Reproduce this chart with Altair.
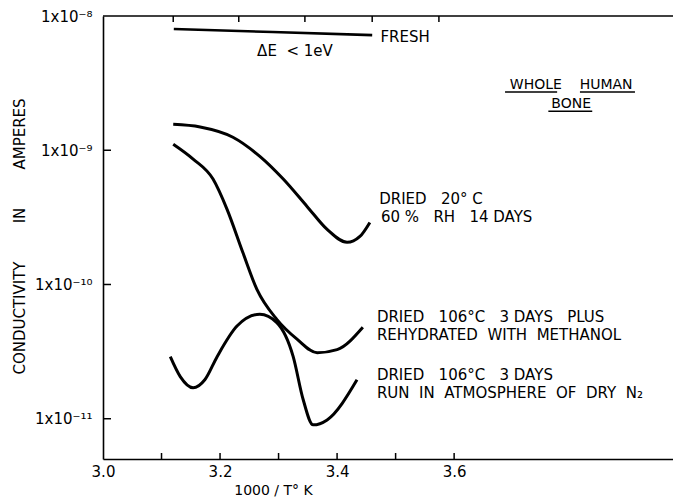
import altair as alt
import pandas as pd

# ---------------- data ----------------
fresh_x = [3.121, 3.290, 3.460]
fresh_y = [8.0e-9, 7.6e-9, 7.2e-9]

a_x = [3.120, 3.166, 3.222, 3.268, 3.308, 3.349, 3.383, 3.417, 3.439, 3.456]
a_y = [1.56e-9, 1.49e-9, 1.25e-9, 9.0e-10, 6.1e-10, 3.8e-10, 2.57e-10, 2.06e-10, 2.28e-10, 2.9e-10]

b_x = [3.120, 3.154, 3.188, 3.212, 3.239, 3.263, 3.297, 3.332, 3.366, 3.400, 3.444]
b_y = [1.11e-9, 8.6e-10, 6.1e-10, 3.63e-10, 1.73e-10, 9.2e-11, 5.5e-11, 3.9e-11, 3.1e-11, 3.27e-11, 4.8e-11]

c_x = [3.115, 3.132, 3.154, 3.174, 3.195, 3.229, 3.268, 3.297, 3.325, 3.342, 3.359, 3.383, 3.434]
c_y = [2.9e-11, 2.06e-11, 1.70e-11, 1.95e-11, 2.9e-11, 4.9e-11, 6.0e-11, 5.2e-11, 2.9e-11, 1.39e-11, 9.0e-12, 9.8e-12, 1.95e-11]

x_label_values = [3.0, 3.2, 3.4, 3.6]
x_tick_values = [3.1, 3.2, 3.3, 3.4, 3.5, 3.6]
top_tick_values = [3.120, 3.232, 3.345, 3.460, 3.574]
y_label_values = [1e-8, 1e-9, 1e-10, 1e-11]
y_tick_values = [1e-9, 1e-10, 1e-11]

NB = "\u00a0"
left_texts = ["FRESH", f"DRIED{NB*3}20°{NB}C", f"60{NB}%{NB*3}RH{NB*3}14{NB}DAYS",
              f"DRIED{NB*3}106°C{NB*3}3{NB}DAYS{NB*3}PLUS", f"REHYDRATED{NB*2}WITH{NB*2}METHANOL",
              f"DRIED{NB*3}106°C{NB*3}3{NB}DAYS", f"RUN{NB*2}IN{NB*2}ATMOSPHERE{NB*2}OF{NB*2}DRY{NB*2}N₂"]
left_x = [3.474, 3.472, 3.475, 3.468, 3.468, 3.468, 3.468]
left_y = [6.97e-9, 4.3e-10, 3.16e-10, 5.77e-11, 4.24e-11, 2.13e-11, 1.56e-11]

center_texts = [f"ΔE{NB*2}<{NB}1eV", f"WHOLE{NB*4}HUMAN", "BONE"]
center_x = [3.328, 3.800, 3.800]
center_y = [5.48e-9, 3.05e-9, 2.2e-9]
center_size = [15, 14, 14]

ul_x1 = [3.687, 3.815, 3.761]
ul_x2 = [3.776, 3.909, 3.836]
ul_y = [2.71e-9, 2.71e-9, 1.95e-9]

# ---------------- chart ----------------
W, H = 570, 443
FONT = "DejaVu Sans"

xs = alt.Scale(domain=[3.0, 3.974], nice=False, zero=False)
ys = alt.Scale(type="log", domain=[10 ** -11.30, 1e-8], nice=False)

curves = pd.concat([
    pd.DataFrame({"x": a_x, "y": a_y, "s": "a"}),
    pd.DataFrame({"x": b_x, "y": b_y, "s": "b"}),
    pd.DataFrame({"x": c_x, "y": c_y, "s": "c"}),
])

label_expr = ("'1x10' + (datum.value > 5e-9 ? '⁻⁸' : datum.value > 5e-10 ? '⁻⁹' : "
              "datum.value > 5e-11 ? '⁻¹⁰' : '⁻¹¹')")

base_lines = alt.Chart(curves).mark_line(color="black", strokeWidth=3, interpolate="monotone").encode(
    x=alt.X("x:Q", scale=xs, axis=alt.Axis(values=x_label_values, format=".1f", ticks=False, grid=False,
                                          domainColor="black", domainWidth=1.6, labelFont=FONT,
                                          labelFontSize=15, labelColor="black", labelPadding=5,
                                          labelFlush=False, title="1000 / T° K", titleFont=FONT,
                                          titleFontSize=14, titleFontWeight="normal", titleColor="black",
                                          titleX=170, titleY=31, titleAnchor="start", titleAlign="center",
                                          titleBaseline="middle")),
    y=alt.Y("y:Q", scale=ys, axis=alt.Axis(values=y_label_values, labelExpr=label_expr, ticks=False,
                                          grid=False, domainColor="black", domainWidth=1.6, labelFont=FONT,
                                          labelFontSize=15, labelColor="black", labelPadding=11,
                                          labelFlush=False,
                                          title=f"CONDUCTIVITY{NB*8}IN{NB*8}AMPERES", titleFont=FONT,
                                          titleFontSize=15, titleFontWeight="normal", titleColor="black",
                                          titleX=-84, titleY=220, titleAngle=270, titleAlign="center",
                                          titleBaseline="middle", titleAnchor="start")),
    detail="s:N",
)

fresh = alt.Chart(pd.DataFrame({"x": fresh_x, "y": fresh_y})).mark_line(
    color="black", strokeWidth=2.6).encode(x=alt.X("x:Q", scale=xs), y=alt.Y("y:Q", scale=ys))

yticks = alt.Chart(pd.DataFrame({"y": y_tick_values})).mark_rule(color="black", strokeWidth=1.5).encode(
    y=alt.Y("y:Q", scale=ys), x=alt.value(0), x2=alt.value(8))

xticks = alt.Chart(pd.DataFrame({"x": x_tick_values})).mark_rule(color="black", strokeWidth=1.5).encode(
    x=alt.X("x:Q", scale=xs), y=alt.value(H), y2=alt.value(H - 6))

top_line = alt.Chart(pd.DataFrame({"x": [3.0], "x2": [3.974]})).mark_rule(color="black", strokeWidth=1.6).encode(
    x=alt.X("x:Q", scale=xs), x2="x2:Q", y=alt.value(0))

tticks = alt.Chart(pd.DataFrame({"x": top_tick_values})).mark_rule(color="black", strokeWidth=1.5).encode(
    x=alt.X("x:Q", scale=xs), y=alt.value(0), y2=alt.value(6))

ltext = alt.Chart(pd.DataFrame({"x": left_x, "y": left_y, "t": left_texts})).mark_text(
    align="left", baseline="middle", font=FONT, fontSize=15, color="black").encode(
    x=alt.X("x:Q", scale=xs), y=alt.Y("y:Q", scale=ys), text="t:N")

ctext = alt.Chart(pd.DataFrame({"x": center_x, "y": center_y, "t": center_texts, "s": center_size})).mark_text(
    align="center", baseline="middle", font=FONT, color="black").encode(
    x=alt.X("x:Q", scale=xs), y=alt.Y("y:Q", scale=ys), text="t:N",
    size=alt.Size("s:Q", scale=None, legend=None))

ulines = alt.Chart(pd.DataFrame({"x": ul_x1, "x2": ul_x2, "y": ul_y})).mark_rule(color="black", strokeWidth=1.5).encode(
    x=alt.X("x:Q", scale=xs), x2="x2:Q", y=alt.Y("y:Q", scale=ys))

chart = alt.layer(base_lines, fresh, yticks, xticks, top_line, tticks, ltext, ctext, ulines).properties(
    width=W, height=H,
    autosize=alt.AutoSizeParams(type="none"),
    padding={"left": 103, "top": 16, "right": 0, "bottom": 43},
    background="white",
).configure_view(stroke=None)

chart.save("out.html", embed_options={"renderer": "svg", "actions": False})
